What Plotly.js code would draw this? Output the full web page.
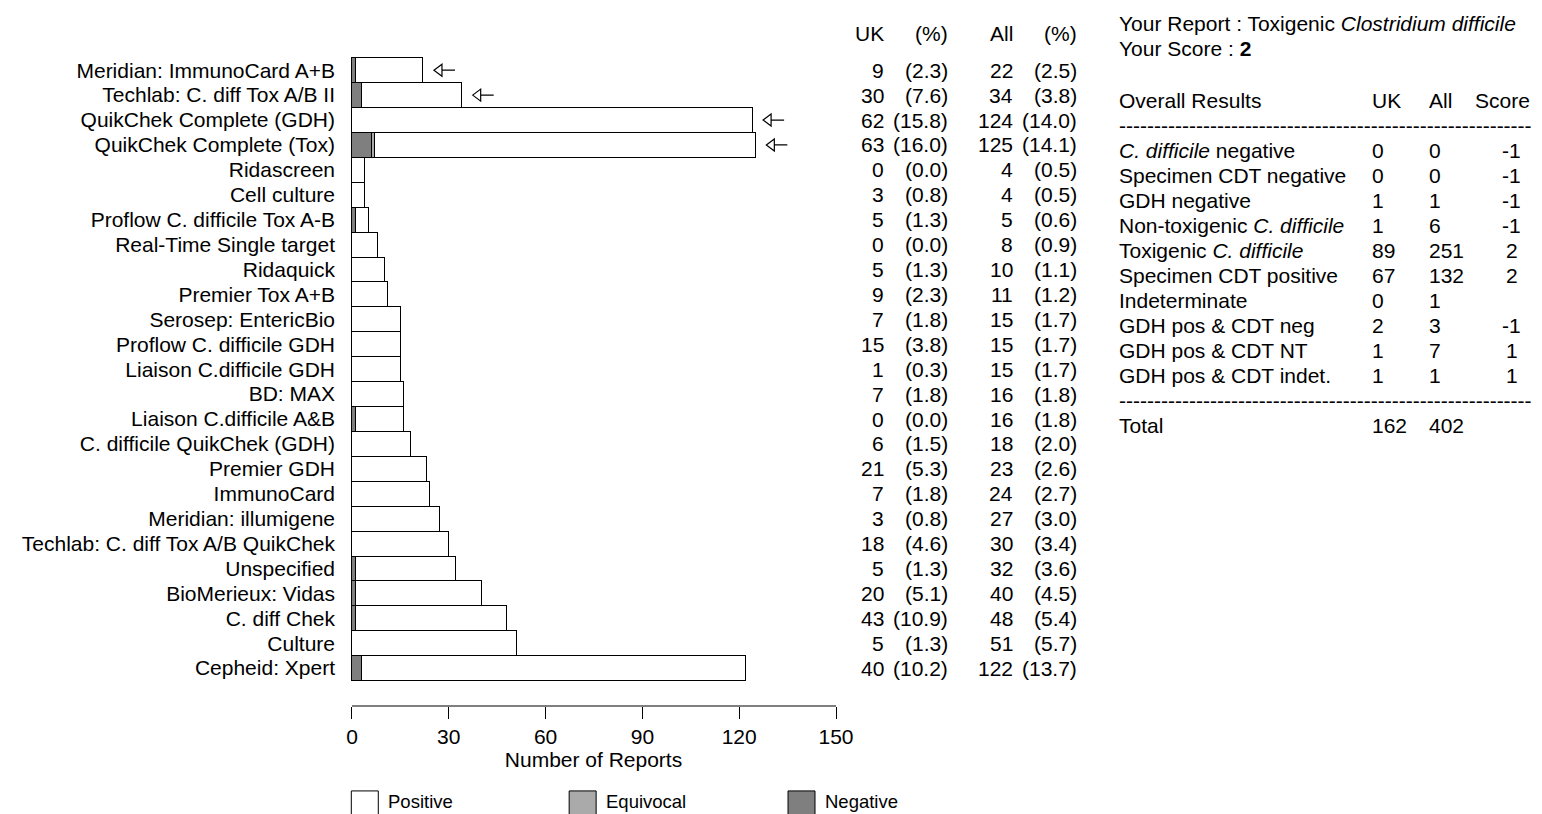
<!DOCTYPE html>
<html>
<head>
<meta charset="utf-8">
<script src="https://cdn.plot.ly/plotly-3.0.1.min.js"></script>
<style>html,body{margin:0;padding:0;background:#fff;}#chart{width:1542px;height:814px;}</style>
</head>
<body>
<div id="chart"></div>
<script>
// ---------- data ----------
const categories = [
  "Meridian: ImmunoCard A+B", "Techlab: C. diff Tox A/B II", "QuikChek Complete (GDH)",
  "QuikChek Complete (Tox)", "Ridascreen", "Cell culture", "Proflow C. difficile Tox A-B",
  "Real-Time Single target", "Ridaquick", "Premier Tox A+B", "Serosep: EntericBio",
  "Proflow C. difficile GDH", "Liaison C.difficile GDH", "BD: MAX", "Liaison C.difficile A&B",
  "C. difficile QuikChek (GDH)", "Premier GDH", "ImmunoCard", "Meridian: illumigene",
  "Techlab: C. diff Tox A/B QuikChek", "Unspecified", "BioMerieux: Vidas", "C. diff Chek",
  "Culture", "Cepheid: Xpert"
];
const negative  = [1, 3, 0, 6, 0, 0, 1, 0, 0, 0, 0, 0, 0, 0, 1, 0, 0, 0, 0, 0, 1, 1, 1, 0, 3];
const equivocal = [0, 0, 0, 1, 0, 0, 0, 0, 0, 0, 0, 0, 0, 0, 0, 0, 0, 0, 0, 0, 0, 0, 0, 0, 0];
const positive  = [21, 31, 124, 118, 4, 4, 4, 8, 10, 11, 15, 15, 15, 16, 15, 18, 23, 24, 27, 30, 31, 39, 47, 51, 119];
const ukCount   = [9, 30, 62, 63, 0, 3, 5, 0, 5, 9, 7, 15, 1, 7, 0, 6, 21, 7, 3, 18, 5, 20, 43, 5, 40];
const ukPct     = [2.3, 7.6, 15.8, 16.0, 0.0, 0.8, 1.3, 0.0, 1.3, 2.3, 1.8, 3.8, 0.3, 1.8, 0.0, 1.5, 5.3, 1.8, 0.8, 4.6, 1.3, 5.1, 10.9, 1.3, 10.2];
const allCount  = [22, 34, 124, 125, 4, 4, 5, 8, 10, 11, 15, 15, 15, 16, 16, 18, 23, 24, 27, 30, 32, 40, 48, 51, 122];
const allPct    = [2.5, 3.8, 14.0, 14.1, 0.5, 0.5, 0.6, 0.9, 1.1, 1.2, 1.7, 1.7, 1.7, 1.8, 1.8, 2.0, 2.6, 2.7, 3.0, 3.4, 3.6, 4.5, 5.4, 5.7, 13.7];
const markedMethods = ["Meridian: ImmunoCard A+B", "Techlab: C. diff Tox A/B II", "QuikChek Complete (GDH)", "QuikChek Complete (Tox)"];
const xTicks = [0, 30, 60, 90, 120, 150];

const resultLabels = ["<i>C. difficile</i> negative", "Specimen CDT negative", "GDH negative",
  "Non-toxigenic <i>C. difficile</i>", "Toxigenic <i>C. difficile</i>", "Specimen CDT positive",
  "Indeterminate", "GDH pos & CDT neg", "GDH pos & CDT NT", "GDH pos & CDT indet."];
const resultUK    = ["0", "0", "1", "1", "89", "67", "0", "2", "1", "1"];
const resultAll   = ["0", "0", "1", "6", "251", "132", "1", "3", "7", "1"];
const resultScore = ["-1", "-1", "-1", "-1", "2", "2", "", "-1", "1", "1"];
const totalUK = "162", totalAll = "402";
const reportText = "Your Report : Toxigenic <i>Clostridium difficile</i>";
const scoreText = "Your Score : <b>2</b>";

// ---------- geometry ----------
const W = 1542, H = 814;
const L = 350.7, Rx = 836, T = 56.5, B = 706;
const FONT = "Liberation Sans, Arial, Helvetica, sans-serif";
const FS = 21;
const px = x => (x - L) / (Rx - L);
const py = y => (B - y) / (B - T);

const clean = a => a.map(v => v === 0 ? null : v);
const lineStyle = {color: "#000", width: 1};
const traces = [
  {type: "bar", orientation: "h", name: "Negative", y: categories, x: clean(negative),
   marker: {color: "#7f7f7f", line: lineStyle}, hoverinfo: "x+y"},
  {type: "bar", orientation: "h", name: "Equivocal", y: categories, x: clean(equivocal),
   marker: {color: "#aaaaaa", line: lineStyle}, hoverinfo: "x+y"},
  {type: "bar", orientation: "h", name: "Positive", y: categories, x: positive,
   marker: {color: "#ffffff", line: lineStyle}, hoverinfo: "x+y"}
];

const ann = [];
const txt = (x, y, text, anchor, opts) => Object.assign({
  xref: "paper", yref: "paper", x: px(x), y: py(y), text: text, showarrow: false,
  xanchor: anchor, yanchor: "middle", font: {family: FONT, size: FS, color: "#000"}
}, opts || {});

// column headers
ann.push(txt(886, 33, "UK", "right"));
ann.push(txt(950, 33, "(%)", "right"));
ann.push(txt(1015, 33, "All", "right"));
ann.push(txt(1079, 33, "(%)", "right"));
// per-row columns
categories.forEach((c, i) => {
  const base = {xref: "paper", yref: "y", y: c, showarrow: false, xanchor: "right", yanchor: "middle",
                font: {family: FONT, size: FS, color: "#000"}};
  ann.push(Object.assign({}, base, {x: px(886), text: String(ukCount[i])}));
  ann.push(Object.assign({}, base, {x: px(950), text: "(" + ukPct[i].toFixed(1) + ")"}));
  ann.push(Object.assign({}, base, {x: px(1015), text: String(allCount[i])}));
  ann.push(Object.assign({}, base, {x: px(1079), text: "(" + allPct[i].toFixed(1) + ")"}));
});

const shapes = [
  {type: "line", xref: "x", yref: "paper", x0: 0, x1: 150, y0: 0, y1: 0, line: {color: "#000", width: 1}}
];
// open-headed arrows marking methods (anchored at the bar end, sized in pixels)
markedMethods.forEach(m => {
  const i = categories.indexOf(m);
  shapes.push({type: "path", xref: "x", yref: "y", xsizemode: "pixel", ysizemode: "pixel",
               xanchor: allCount[i], yanchor: i,
               path: "M 11 0 L 19 6 L 19 -6 Z M 19 0 L 32 0",
               fillcolor: "#ffffff", line: {color: "#000", width: 1.2}});
});

// right table
ann.push(txt(1117, 23, reportText, "left"));
ann.push(txt(1117, 48, scoreText, "left"));
ann.push(txt(1117, 100, "Overall Results", "left"));
ann.push(txt(1370, 100, "UK", "left"));
ann.push(txt(1427, 100, "All", "left"));
ann.push(txt(1473, 100, "Score", "left"));
const dashes = "-".repeat(59);
ann.push(txt(1117, 125, dashes, "left"));
resultLabels.forEach((lab, i) => {
  const y = 150 + 25 * i;
  ann.push(txt(1117, y, lab, "left"));
  ann.push(txt(1370, y, resultUK[i], "left"));
  ann.push(txt(1427, y, resultAll[i], "left"));
  if (resultScore[i] !== "") ann.push(txt(1512, y, resultScore[i], "center"));
});
ann.push(txt(1117, 400, dashes, "left"));
ann.push(txt(1117, 425, "Total", "left"));
ann.push(txt(1370, 425, totalUK, "left"));
ann.push(txt(1427, 425, totalAll, "left"));

// legend (drawn manually)
const legendItems = [["Positive", "#ffffff", 351], ["Equivocal", "#aaaaaa", 569], ["Negative", "#7f7f7f", 788]];
legendItems.forEach(([name, col, x0]) => {
  shapes.push({type: "rect", xref: "paper", yref: "paper", x0: px(x0), x1: px(x0 + 27), y0: py(791), y1: py(818),
               fillcolor: col, line: {color: "#000", width: 1}});
  ann.push(txt(x0 + 35, 814, name, "left", {yanchor: "bottom", font: {family: FONT, size: 18.5, color: "#000"}}));
});

const layout = {
  width: W, height: H,
  margin: {l: L, r: W - Rx, t: T, b: H - B, pad: 0, autoexpand: false},
  paper_bgcolor: "#fff", plot_bgcolor: "#fff",
  barmode: "stack", bargap: 0, showlegend: false,
  font: {family: FONT, size: FS, color: "#000"},
  xaxis: {range: [-0.3, 150], tickvals: xTicks, ticktext: xTicks.map(String), ticks: "outside",
          ticklen: 12, tickwidth: 1, tickcolor: "#000", showline: false, showgrid: false, zeroline: false,
          ticklabelstandoff: 0,
          tickfont: {family: FONT, size: FS, color: "#000"},
          title: {text: "Number of Reports", font: {family: FONT, size: FS, color: "#000"}, standoff: 3}},
  yaxis: {type: "category", categoryorder: "array", categoryarray: categories,
          tickmode: "array", tickvals: categories, ticktext: categories,
          range: [25.52, -0.53], showgrid: false, zeroline: false, showline: false, ticks: "",
          ticklabelstandoff: 15, tickfont: {family: FONT, size: FS, color: "#000"}},
  shapes: shapes,
  annotations: ann
};

Plotly.newPlot("chart", traces, layout, {displayModeBar: false, staticPlot: true});
</script>
</body>
</html>
